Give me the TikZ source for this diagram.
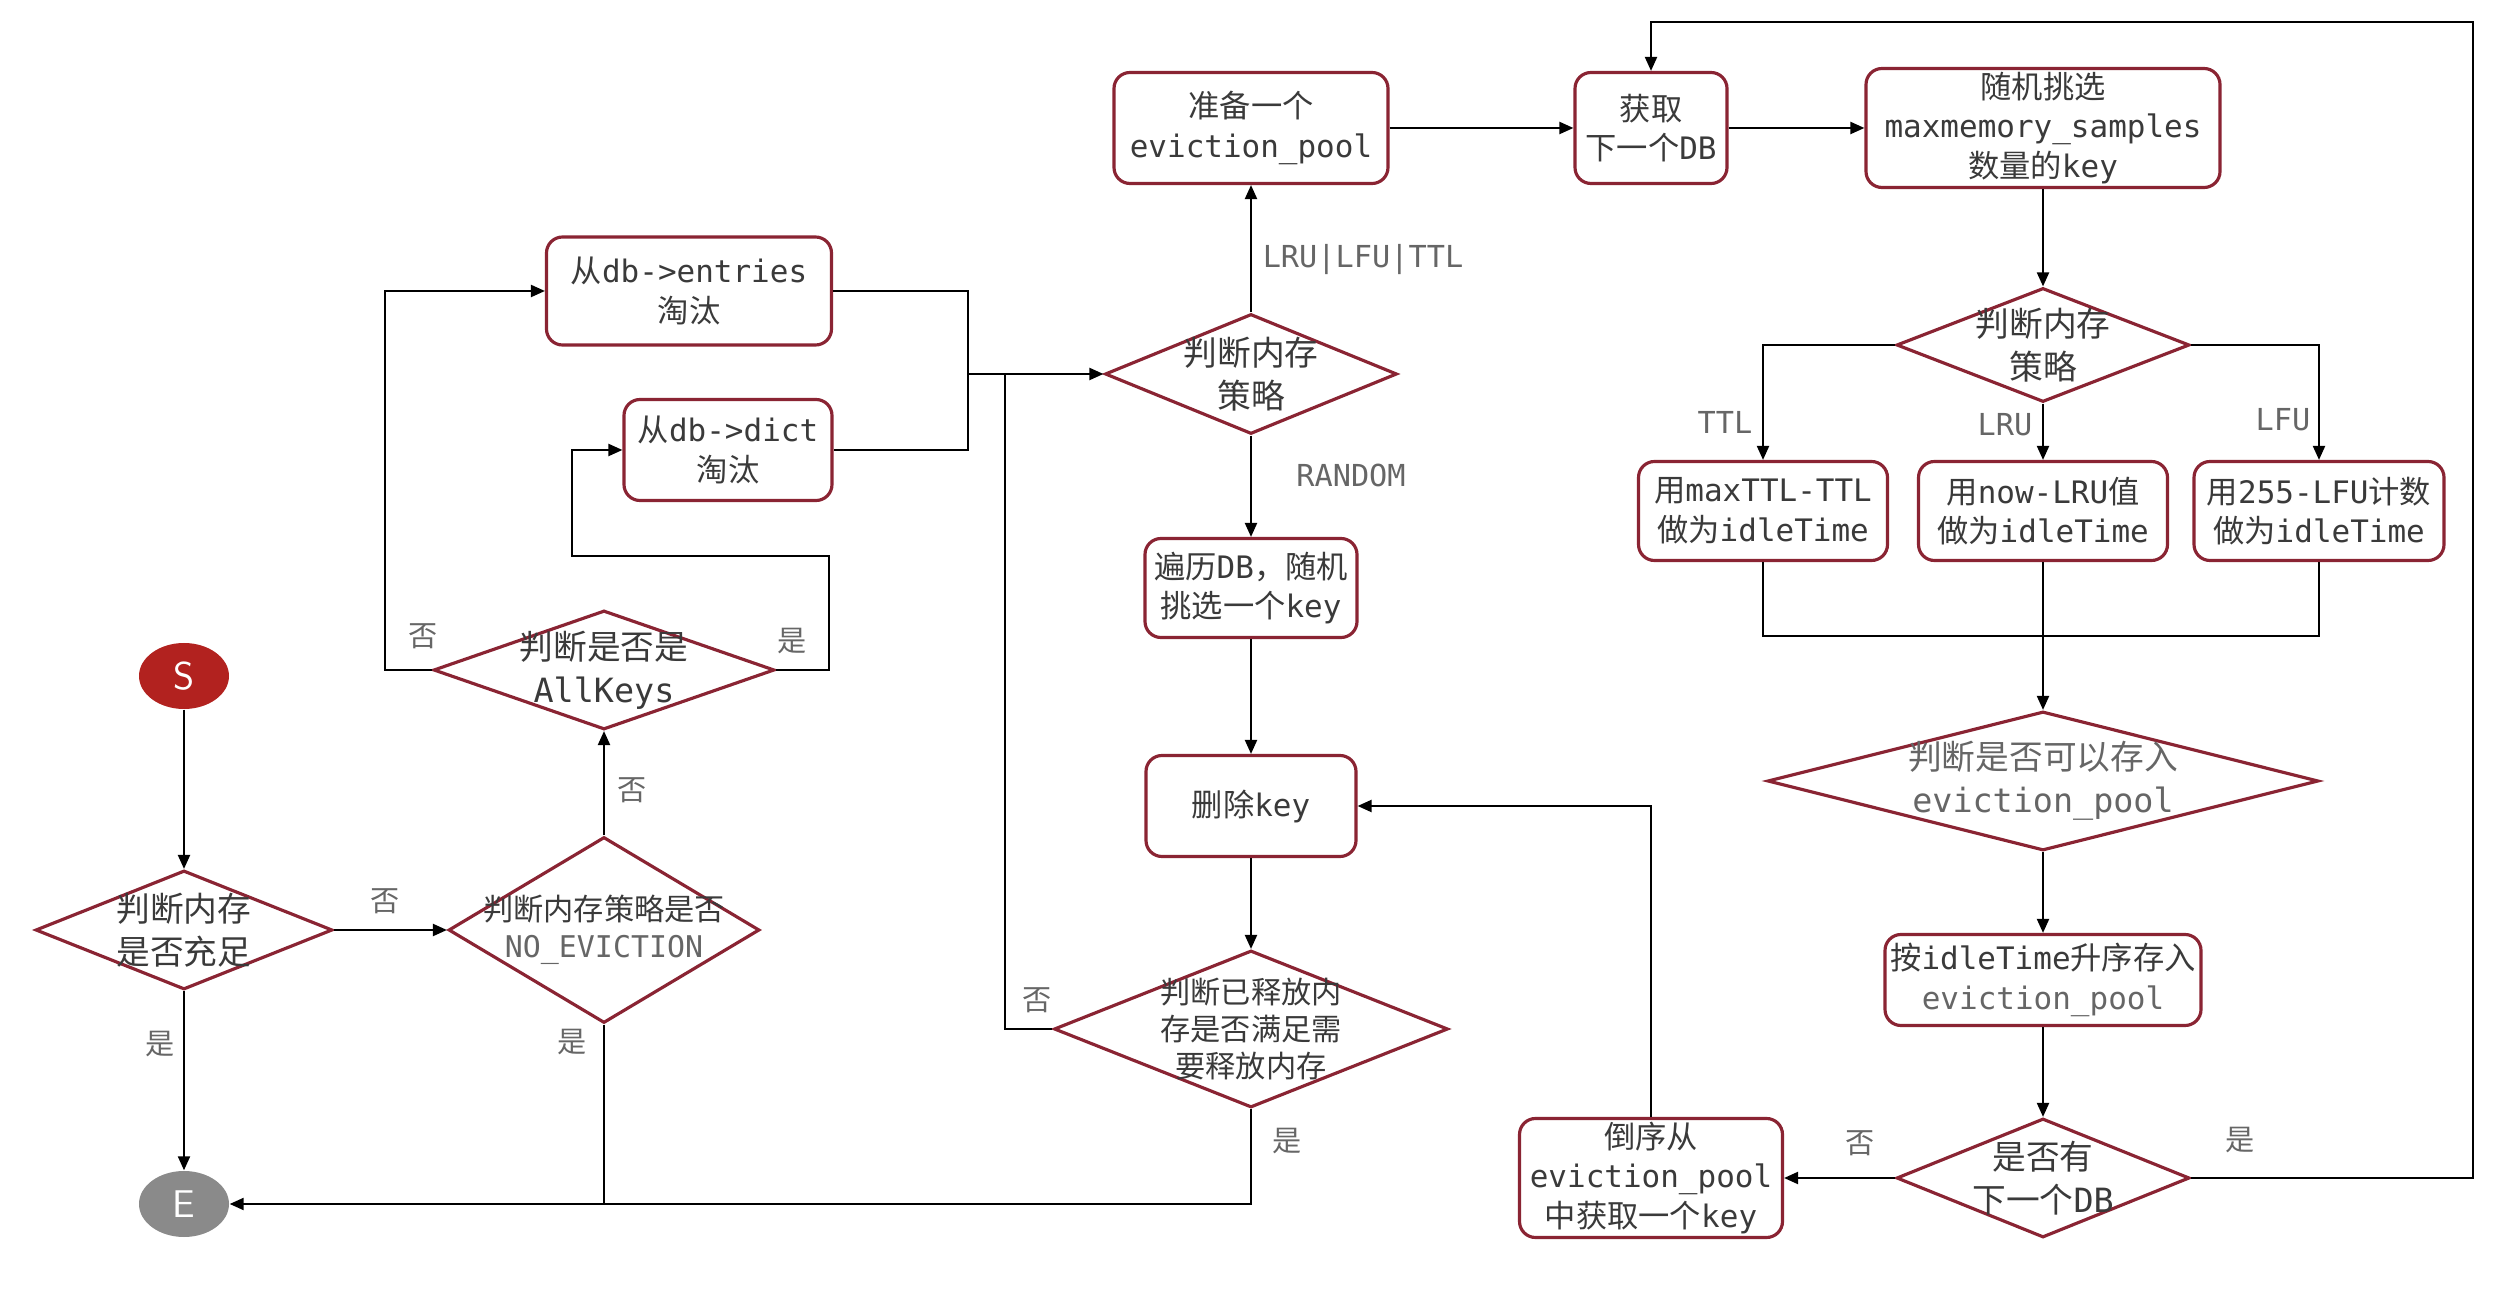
\documentclass[tikz,border=0pt]{standalone}
\usepackage{fontspec}
\setmainfont{Noto Sans CJK SC}
\setmonofont[Scale=0.99]{DejaVu Sans Mono}
\usetikzlibrary{shapes.geometric,arrows.meta}
\definecolor{bord}{HTML}{8A2433}
\definecolor{txt}{HTML}{3A3A3A}
\definecolor{lblc}{HTML}{666666}
\definecolor{startc}{HTML}{B2221F}
\definecolor{endc}{HTML}{8A8A8A}
\newcommand{\tx}[1]{\texttt{#1}}

\begin{document}
\begin{tikzpicture}[x=0.1mm,y=-0.1mm,
	font=\fontsize{8.9}{11.3}\selectfont,
	box/.style={draw=bord,line width=0.9pt,rounded corners=1.6mm,text=txt,align=center,inner sep=0pt},
	dia/.style={diamond,draw=bord,line width=0.9pt,inner sep=0pt},
	dtext/.style={text=txt,align=center,font=\fontsize{9.6}{12.2}\selectfont},
	dsmall/.style={text=txt,align=center,font=\fontsize{8.6}{10.4}\selectfont},
	term/.style={ellipse,inner sep=0pt,minimum width=9mm,minimum height=6.6mm,text=white,font=\sffamily\fontsize{11}{11}\selectfont},
	arr/.style={-{Triangle[length=1.4mm,width=1.2mm]},line width=0.6pt},
	lbl/.style={text=lblc,font=\fontsize{8.3}{10}\selectfont},
	mlbl/.style={text=lblc,font=\ttfamily\fontsize{8.7}{10}\selectfont}]
		\useasboundingbox (0,0) rectangle (2514,1290);
		% left part
		\node[term,fill=startc] (S) at (184,676) {S};
		\node[term,fill=endc] (E) at (184,1204) {E};
		\node[dia,minimum width=29.7mm,minimum height=11.9mm,label={[dtext]center:{判断内存\\是否充足}}] (memok) at (184,930) {};
		\node[dia,minimum width=31.1mm,minimum height=18.6mm,label={[dsmall]center:{判断内存策略是否\\{\color{lblc}\tx{NO\_EVICTION}}}}] (noevict) at (604,930) {};
		\node[dia,minimum width=34.1mm,minimum height=11.9mm,label={[dtext]center:{判断是否是\\\tx{AllKeys}}}] (allkeys) at (604,670) {};
		\node[box,minimum width=28.5mm,minimum height=10.8mm] (entries) at (689,291) {从\tx{db->entries}\\淘汰};
		\node[box,minimum width=20.8mm,minimum height=10.1mm] (dict) at (728,450) {从\tx{db->dict}\\淘汰};
		% middle part
		\node[dia,minimum width=29.2mm,minimum height=12mm,label={[dtext]center:{判断内存\\策略}}] (policy) at (1251,374) {};
		\node[box,minimum width=27.4mm,minimum height=11.1mm] (pool) at (1251,128) {准备一个\\\tx{eviction\_pool}};
		\node[box,minimum width=21.2mm,minimum height=9.9mm] (rand) at (1251,588) {遍历\tx{DB}，随机\\挑选一个\tx{key}};
		\node[box,minimum width=21mm,minimum height=10.1mm] (delkey) at (1251,806) {删除\tx{key}};
		\node[dia,minimum width=39.4mm,minimum height=15.7mm,label={[dsmall]center:{判断已释放内\\存是否满足需\\要释放内存}}] (freed) at (1251,1029) {};
		% right part
		\node[box,minimum width=15.2mm,minimum height=11.1mm] (nextdb) at (1651,128) {获取\\下一个\tx{DB}};
		\node[box,minimum width=35.4mm,minimum height=11.9mm] (samples) at (2043,128) {随机挑选\\\tx{maxmemory\_samples}\\数量的\tx{key}};
		\node[dia,minimum width=29.3mm,minimum height=11.4mm,label={[dtext]center:{判断内存\\策略}}] (policyb) at (2043,345) {};
		\node[box,minimum width=24.9mm,minimum height=9.9mm] (ttl) at (1763,511) {用\tx{maxTTL-TTL}\\做为\tx{idleTime}};
		\node[box,minimum width=24.9mm,minimum height=9.9mm] (lru) at (2043,511) {用\tx{now-LRU}值\\做为\tx{idleTime}};
		\node[box,minimum width=25mm,minimum height=9.9mm] (lfu) at (2319,511) {用\tx{255-LFU}计数\\做为\tx{idleTime}};
		\node[dia,minimum width=55.1mm,minimum height=13.9mm,label={[dtext]center:{{\color{lblc}判断是否可以存入}\\{\color{lblc}\tx{eviction\_pool}}}}] (canput) at (2043,781) {};
		\node[box,minimum width=31.6mm,minimum height=9.1mm] (insert) at (2043,980) {按\tx{idleTime}升序存入\\{\color{lblc}\tx{eviction\_pool}}};
		\node[dia,minimum width=29.3mm,minimum height=11.9mm,label={[dtext]center:{是否有\\下一个\tx{DB}}}] (hasnext) at (2043,1178) {};
		\node[box,minimum width=26.3mm,minimum height=11.9mm] (revget) at (1651,1178) {倒序从\\\tx{eviction\_pool}\\中获取一个\tx{key}};
		% bends
		\coordinate (bno) at (385,670);
		\coordinate (byesA) at (829,556);
		\coordinate (byesB) at (572,556);
		\coordinate (jmerge) at (968,374);
		\coordinate (jfreed) at (1005,374);
		\coordinate (loop) at (2473,22);
		\coordinate (mrg) at (2043,636);
		% connectors
		\draw[arr] (S) -- (memok.north);
		\draw[arr] (memok.south) -- (E.north);
		\draw[arr] (memok.east) -- (noevict.west);
		\draw[arr] (noevict.north) -- (allkeys.south);
		\draw[line width=0.6pt] (noevict.south) -- (noevict.south |- E.east);
		\draw[arr] (allkeys.west) -- (bno) |- (entries.west);
		\draw[arr] (allkeys.east) -| (byesA) -- (byesB) |- (dict.west);
		\draw[line width=0.6pt] (entries.east) -| (jmerge) |- (dict.east);
		\draw[arr] (jmerge) -- (policy.west);
		\draw[arr] (policy.north) -- (pool.south);
		\draw[arr] (policy.south) -- (rand.north);
		\draw[arr] (rand.south) -- (delkey.north);
		\draw[arr] (delkey.south) -- (freed.north);
		\draw[line width=0.6pt] (freed.west) -| (jfreed);
		\draw[arr] (freed.south) |- (E.east);
		\draw[arr] (pool.east) -- (nextdb.west);
		\draw[arr] (nextdb.east) -- (samples.west);
		\draw[arr] (samples.south) -- (policyb.north);
		\draw[arr] (policyb.west) -| (ttl.north);
		\draw[arr] (policyb.south) -- (lru.north);
		\draw[arr] (policyb.east) -| (lfu.north);
		\draw[line width=0.6pt] (ttl.south) |- (mrg) -| (lfu.south);
		\draw[arr] (lru.south) -- (canput.north);
		\draw[arr] (canput.south) -- (insert.north);
		\draw[arr] (insert.south) -- (hasnext.north);
		\draw[arr] (hasnext.west) -- (revget.east);
		\draw[arr] (hasnext.east) -| (loop) -| (nextdb.north);
		\draw[arr] (revget.north) |- (delkey.east);
		% branch labels
		\node[lbl] (lmemno) at (385,901) {否};
		\node[lbl] (lmemyes) at (160,1044) {是};
		\node[lbl] (levyes) at (572,1042) {是};
		\node[lbl] (levno) at (632,790) {否};
		\node[lbl] (lallno) at (423,636) {否};
		\node[lbl] (lallyes) at (792,641) {是};
		\node[mlbl] (lpool) at (1363,260) {LRU|LFU|TTL};
		\node[mlbl] (lrand) at (1351,475) {RANDOM};
		\node[lbl] (lfreedno) at (1037,1000) {否};
		\node[lbl] (lfreedyes) at (1287,1141) {是};
		\node[mlbl] (lttl) at (1725,422) {TTL};
		\node[mlbl] (llru) at (2005,425) {LRU};
		\node[mlbl] (llfu) at (2283,420) {LFU};
		\node[lbl] (lnextno) at (1860,1143) {否};
		\node[lbl] (lnextyes) at (2240,1140) {是};
	\end{tikzpicture}
\end{document}
